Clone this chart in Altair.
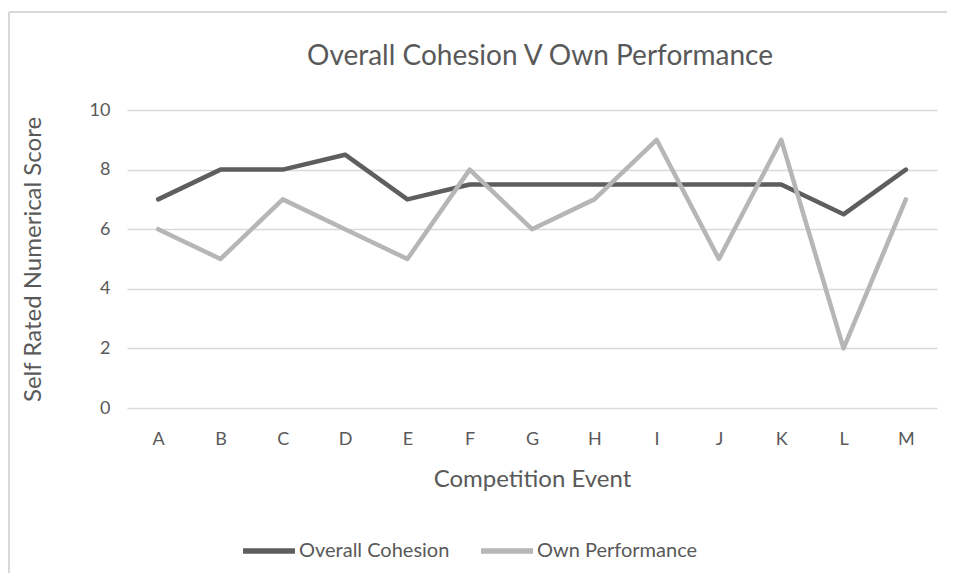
import altair as alt
import pandas as pd

events = ["A", "B", "C", "D", "E", "F", "G", "H", "I", "J", "K", "L", "M"]
overall_cohesion = [7, 8, 8, 8.5, 7, 7.5, 7.5, 7.5, 7.5, 7.5, 7.5, 6.5, 8]
own_performance = [6, 5, 7, 6, 5, 8, 6, 7, 9, 5, 9, 2, 7]
series_names = ["Overall Cohesion", "Own Performance"]
series_colors = ["#5e5e5e", "#b6b6b6"]
y_ticks = [0, 2, 4, 6, 8, 10]
chart_title = "Overall Cohesion V Own Performance"

rows = []
for i, (e, a, b) in enumerate(zip(events, overall_cohesion, own_performance)):
    rows.append({"Event": e, "Series": series_names[0], "Score": a, "idx": i})
    rows.append({"Event": e, "Series": series_names[1], "Score": b, "idx": i})
df = pd.DataFrame(rows)

FONT = "Lato"
TXT = "#595959"
one = pd.DataFrame({"k": [0]})

border_left = alt.Chart(one).mark_rule(stroke="#d9d9d9", strokeWidth=2).encode(
    x=alt.value(-118), y=alt.value(-98), y2=alt.value(700)
)
border_top = alt.Chart(one).mark_rule(stroke="#d9d9d9", strokeWidth=2).encode(
    x=alt.value(-118), x2=alt.value(1000), y=alt.value(-98)
)

title = alt.Chart(pd.DataFrame({"t": [chart_title]})).mark_text(
    font=FONT, fontSize=28, color=TXT, align="center", baseline="alphabetic"
).encode(text="t:N", x=alt.value(413), y=alt.value(-45))

lines = alt.Chart(df).mark_line(strokeWidth=4.5, strokeCap="round", strokeJoin="round").encode(
    x=alt.X("Event:N", sort=events,
            scale=alt.Scale(paddingInner=1, paddingOuter=0.5, align=0.5),
            axis=alt.Axis(title="Competition Event", labelAngle=0, ticks=False, domain=False,
                          labelPadding=22, labelFontSize=18, titleFontSize=24,
                          titleX=405, titleY=71, titleBaseline="middle", titleAlign="center",
                          labelColor=TXT, titleColor=TXT, labelFont=FONT, titleFont=FONT,
                          titleFontWeight="normal", grid=False)),
    y=alt.Y("Score:Q", scale=alt.Scale(domain=[0, 10], nice=False),
            axis=alt.Axis(title="Self Rated Numerical Score", values=y_ticks, ticks=False, domain=False,
                          labelPadding=17, labelFontSize=18, titleFontSize=24,
                          titleX=-94, titleY=149, titleBaseline="middle", titleAlign="center",
                          titleAngle=270,
                          labelColor=TXT, titleColor=TXT, labelFont=FONT, titleFont=FONT,
                          titleFontWeight="normal", gridColor="#d9d9d9", gridWidth=1.3)),
    color=alt.Color("Series:N", sort=series_names,
                    scale=alt.Scale(domain=series_names, range=series_colors),
                    legend=alt.Legend(title=None, orient="none", direction="horizontal",
                                      legendX=113, legendY=412, symbolType="stroke",
                                      symbolStrokeWidth=5.5, symbolSize=2700, labelFontSize=20,
                                      labelFont=FONT, labelColor=TXT, columnPadding=20,
                                      labelOffset=1, labelLimit=400)),
    order=alt.Order("idx:Q"),
)

chart = alt.layer(border_left, border_top, title, lines).properties(
    width=810, height=298,
    autosize=alt.AutoSizeParams(type="none"),
    padding={"left": 119, "top": 102, "right": 10, "bottom": 165},
).configure_view(stroke=None)

chart.save("out.html", embed_options={"renderer": "svg", "actions": False})
